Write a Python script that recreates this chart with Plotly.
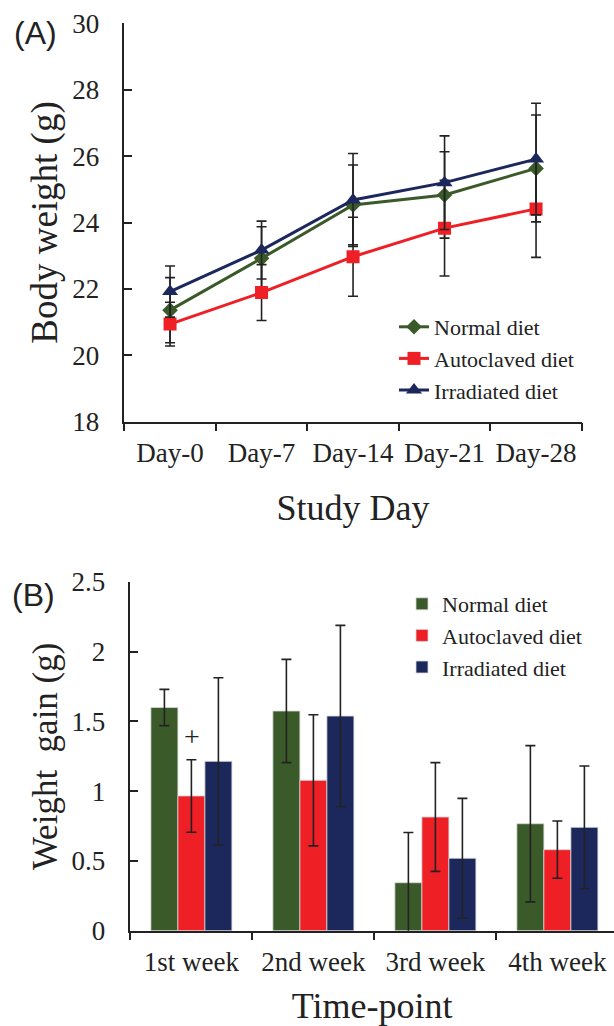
import plotly.graph_objects as go

# ---------------- data ----------------
days = ["Day-0", "Day-7", "Day-14", "Day-21", "Day-28"]
normal_bw = [21.36, 22.92, 24.53, 24.83, 25.63]
normal_bw_err = [0.98, 0.95, 1.20, 1.30, 1.61]
auto_bw = [20.94, 21.89, 22.97, 23.83, 24.41]
auto_bw_err = [0.66, 0.84, 1.19, 1.44, 1.46]
irr_bw = [21.92, 23.17, 24.68, 25.20, 25.91]
irr_bw_err = [0.77, 0.87, 1.40, 1.41, 1.68]

weeks = ["1st week", "2nd week", "3rd week", "4th week"]
normal_gain = [1.60, 1.575, 0.344, 0.767]
normal_gain_err = [0.13, 0.37, 0.36, 0.56]
auto_gain = [0.966, 1.078, 0.815, 0.581]
auto_gain_err = [0.26, 0.47, 0.39, 0.205]
irr_gain = [1.214, 1.539, 0.519, 0.741]
irr_gain_err = [0.60, 0.65, 0.43, 0.44]

series_names = ["Normal diet", "Autoclaved diet", "Irradiated diet"]

# ---------------- style ----------------
W, H = 614, 1026
GREEN = "#3b5a29"
RED = "#ee1f25"
NAVY = "#1c285c"
INK = "#222222"
SERIF = "Liberation Serif, Times New Roman, serif"
SANS = "Liberation Sans, Arial, sans-serif"

fig = go.Figure()

# Panel A: lines with markers
line_sets = [
    (normal_bw, normal_bw_err, GREEN, "diamond", 12),
    (auto_bw, auto_bw_err, RED, "square", 13),
    (irr_bw, irr_bw_err, NAVY, "triangle-up", 14),
]
for i, (vals, errs, col, sym, sz) in enumerate(line_sets):
    fig.add_trace(go.Scatter(
        x=days, y=vals, name=series_names[i], mode="lines+markers",
        line=dict(color=col, width=3),
        marker=dict(symbol=sym, size=sz, color=col),
        error_y=dict(type="data", array=errs, visible=True,
                     color=INK, thickness=1.6, width=5),
        xaxis="x", yaxis="y", legend="legend", legendgroup="a%d" % i,
    ))

# Panel B: grouped bars
bar_sets = [
    (normal_gain, normal_gain_err, GREEN),
    (auto_gain, auto_gain_err, RED),
    (irr_gain, irr_gain_err, NAVY),
]
for i, (vals, errs, col) in enumerate(bar_sets):
    fig.add_trace(go.Bar(
        x=weeks, y=vals, name=series_names[i],
        marker=dict(color=col, line=dict(color="#d8d8d8", width=0.8)),
        error_y=dict(type="data", array=errs, visible=True,
                     color=INK, thickness=1.6, width=5),
        cliponaxis=False,
        xaxis="x2", yaxis="y2", legend="legend2", legendgroup="b%d" % i,
    ))

def px_x(p):
    return p / W

def px_y(p):
    return 1 - p / H

axis_common = dict(showline=True, linecolor=INK, linewidth=1.5,
                   showgrid=False, zeroline=False, ticks="outside",
                   tickcolor=INK, tickwidth=1.5, ticklen=8, automargin=False)

TICKFONT = dict(family=SERIF, size=27, color=INK)

fig.update_layout(
    template="none",
    width=W, height=H,
    margin=dict(l=0, r=0, t=0, b=0, pad=0, autoexpand=False),
    paper_bgcolor="white", plot_bgcolor="white",
    font=dict(family=SERIF, color=INK),
    barmode="group", bargap=0.336, bargroupgap=0,
    xaxis=dict(**axis_common, domain=[px_x(124.3), px_x(581.8)],
               anchor="y", type="category", range=[-0.5, 4.5],
               tickson="boundaries", ticklabelstandoff=6,
               tickfont=TICKFONT,
               title=dict(text="Study Day", font=dict(family=SERIF, size=36, color=INK),
                          standoff=28)),
    yaxis=dict(**{**axis_common, "ticks": "inside"},
               domain=[px_y(421.7), px_y(23.3)], anchor="x",
               range=[18, 30], dtick=2, ticklabelstandoff=18,
               tickfont=TICKFONT,
               title=dict(text="Body weight (g)", font=dict(family=SERIF, size=37, color=INK),
                          standoff=3)),
    xaxis2=dict(**axis_common, domain=[px_x(130.4), 1.0],
                anchor="y2", type="category", range=[-0.5, 3.464],
                tickson="boundaries", ticklabelstandoff=6,
                tickfont=TICKFONT,
                title=dict(text="Time-point", font=dict(family=SERIF, size=36, color=INK),
                           standoff=17)),
    yaxis2=dict(**{**axis_common, "ticks": "inside"},
                domain=[px_y(930.7), px_y(582)], anchor="x2",
                range=[0, 2.5], dtick=0.5, ticklabelstandoff=18,
                tickfont=TICKFONT,
                title=dict(text="Weight  gain (g)", font=dict(family=SERIF, size=35, color=INK),
                           standoff=3)),
    legend=dict(x=px_x(394), y=px_y(306), xanchor="left", yanchor="top",
                font=dict(family=SERIF, size=22, color=INK),
                bgcolor="rgba(0,0,0,0)", tracegroupgap=0, itemwidth=30),
    legend2=dict(x=px_x(402), y=px_y(583), xanchor="left", yanchor="top",
                 font=dict(family=SERIF, size=22, color=INK),
                 bgcolor="rgba(0,0,0,0)", tracegroupgap=0, itemwidth=30),
    showlegend=True,
)

fig.add_annotation(text="(A)", x=px_x(12), y=px_y(33), xref="paper", yref="paper",
                   xanchor="left", yanchor="middle", showarrow=False,
                   font=dict(family=SANS, size=32, color=INK))
fig.add_annotation(text="(B)", x=px_x(10), y=px_y(595), xref="paper", yref="paper",
                   xanchor="left", yanchor="middle", showarrow=False,
                   font=dict(family=SANS, size=32, color=INK))
fig.add_annotation(text="+", x="1st week", y=1.39, xref="x2", yref="y2",
                   xshift=1, showarrow=False,
                   font=dict(family=SERIF, size=28, color=INK))

fig.write_html("out.html",
               config={"displayModeBar": False},
               post_script="document.body.style.margin='0';")
